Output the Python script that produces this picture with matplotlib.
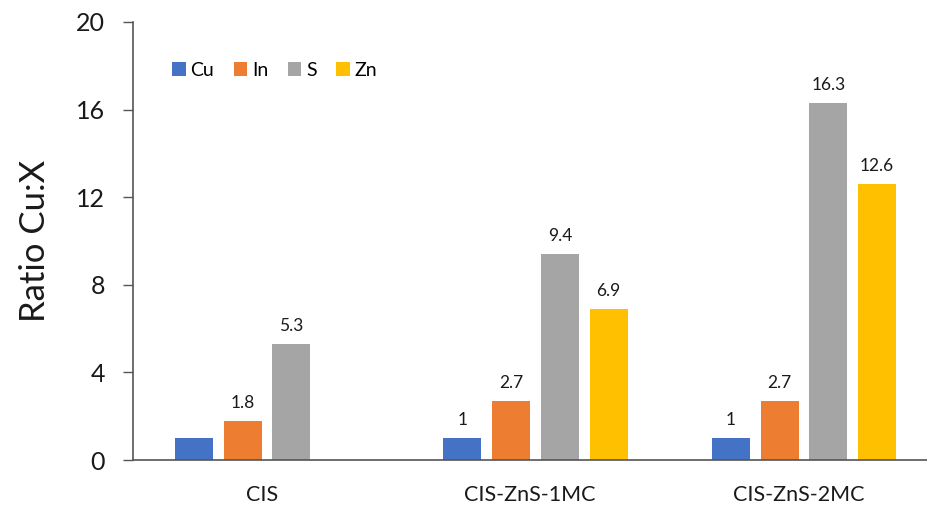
import numpy as np
import matplotlib
matplotlib.use('Agg')
import matplotlib.pyplot as plt

plt.rcParams['font.family'] = ['Lato', 'DejaVu Sans']

samples = ['CIS', 'CIS-ZnS-1MC', 'CIS-ZnS-2MC']
elements = ['Cu', 'In', 'S', 'Zn']
cu = [1, 1, 1]
in_ = [1.8, 2.7, 2.7]
s = [5.3, 9.4, 16.3]
zn = [0, 6.9, 12.6]
cu_labels = ['', '1', '1']
in_labels = ['1.8', '2.7', '2.7']
s_labels = ['5.3', '9.4', '16.3']
zn_labels = ['', '6.9', '12.6']
colors = ['#4472C4', '#ED7D31', '#A5A5A5', '#FFC000']
yticks = [0, 4, 8, 12, 16, 20]

series = [cu, in_, s, zn]
labels = [cu_labels, in_labels, s_labels, zn_labels]

fig = plt.figure(figsize=(9.27, 5.08), dpi=100)
ax = fig.add_axes([133 / 927, 48 / 508, 794 / 927, 438 / 508])

x = np.arange(len(samples))
step = 0.1815
width = 0.1415
for i, (vals, labs, name, col) in enumerate(zip(series, labels, elements, colors)):
    pos = x + (i - 1.5) * step
    bars = ax.bar(pos, vals, width, color=col, label=name)
    for b, lab in zip(bars, labs):
        if lab:
            ax.annotate(lab, (b.get_x() + b.get_width() / 2, b.get_height()),
                        xytext=(0, 7), textcoords='offset points',
                        ha='center', va='bottom', fontsize=12.5, color='#1a1a1a')

ax.set_xlim(-0.499, 2.458)
ax.set_ylim(0, 20)
ax.set_yticks(yticks)
ax.set_xticks(x - 0.02)
ax.set_xticklabels(samples)
ax.tick_params(axis='y', labelsize=18, length=7, width=1, color='#555555', pad=13, labelcolor='#1a1a1a')
ax.tick_params(axis='x', labelsize=15.5, length=0, pad=18, labelcolor='#1a1a1a')
ax.set_ylabel('Ratio Cu:X', fontsize=25, color='#1a1a1a', labelpad=18)

for side in ['top', 'right']:
    ax.spines[side].set_visible(False)
for side in ['left', 'bottom']:
    ax.spines[side].set_color('#555555')
    ax.spines[side].set_linewidth(1.2)

ax.legend(loc='center left', bbox_to_anchor=(172 / 927, 1 - 70 / 508), bbox_transform=fig.transFigure,
          ncol=4, frameon=False, fontsize=14, handlelength=0.7, handleheight=0.7,
          handletextpad=0.25, columnspacing=1.0, borderpad=0, borderaxespad=0)

plt.savefig('out.png', dpi=100)
